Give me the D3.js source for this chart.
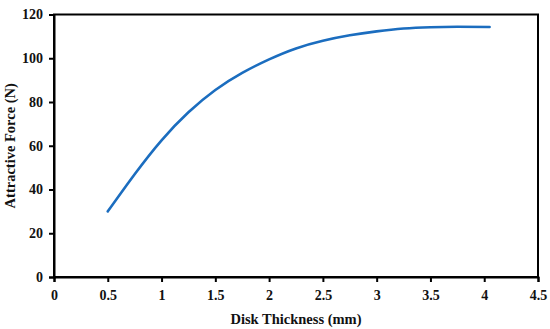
<!DOCTYPE html>
<html>
<head>
<meta charset="utf-8">
<script src="https://cdn.jsdelivr.net/npm/d3@7"></script>
<style>
  body { margin: 0; background: #fff; }
  svg { display: block; }
  .tick text { font-family: "Liberation Serif", serif; font-weight: bold; font-size: 14px; fill: #111; }
  .title { font-family: "Liberation Serif", serif; font-weight: bold; font-size: 14.5px; fill: #111; }
</style>
</head>
<body>
<svg id="chart"></svg>
<script>
// thickness (mm) -> force (N)
var thickness = [0.5, 0.75, 1.0, 1.25, 1.5, 1.75, 2.0, 2.25, 2.5, 2.75, 3.0, 3.25, 3.5, 3.75, 4.05];
var force     = [30, 47, 62.5, 75.3, 85.5, 93.3, 99.5, 104.5, 108, 110.5, 112.3, 113.6, 114.2, 114.4, 114.3];

var xTicks = [0, 0.5, 1, 1.5, 2, 2.5, 3, 3.5, 4, 4.5];
var yTicks = [0, 20, 40, 60, 80, 100, 120];

var width = 550, height = 329;
var margin = {left: 54, right: 12, top: 14.5, bottom: 52};

var svg = d3.select("#chart").attr("width", width).attr("height", height);

var x = d3.scaleLinear().domain([0, 4.5]).range([margin.left, width - margin.right]);
var y = d3.scaleLinear().domain([0, 120]).range([height - margin.bottom, margin.top]);

// frame
svg.append("rect")
    .attr("x", x(0)).attr("y", y(120))
    .attr("width", x(4.5) - x(0)).attr("height", y(0) - y(120))
    .style("fill", "none").style("stroke", "#000").style("stroke-width", 2);

var xAxis = svg.append("g").attr("transform", `translate(0,${y(0)})`)
    .call(d3.axisBottom(x).tickValues(xTicks).tickSize(5).tickPadding(8).tickFormat(d3.format("")));
var yAxis = svg.append("g").attr("transform", `translate(${x(0)},0)`)
    .call(d3.axisLeft(y).tickValues(yTicks).tickSize(5).tickPadding(6));

[xAxis, yAxis].forEach(function (a) {
    a.select(".domain").style("stroke", "#000").style("stroke-width", 2);
    a.selectAll(".tick line").style("stroke", "#000").style("stroke-width", 2);
});

var line = d3.line().x((d, i) => x(thickness[i])).y(d => y(d)).curve(d3.curveNatural);

svg.append("path").datum(force)
    .attr("d", line)
    .style("fill", "none").style("stroke", "#1b6dbf").style("stroke-width", 2.6)
    .style("stroke-linecap", "round");

svg.append("text").attr("class", "title")
    .attr("x", (x(0) + x(4.5)) / 2).attr("y", 324)
    .attr("text-anchor", "middle")
    .text("Disk Thickness (mm)");

svg.append("text").attr("class", "title")
    .attr("transform", `translate(15,${(y(0) + y(120)) / 2}) rotate(-90)`)
    .attr("text-anchor", "middle")
    .text("Attractive Force (N)");
</script>
</body>
</html>
